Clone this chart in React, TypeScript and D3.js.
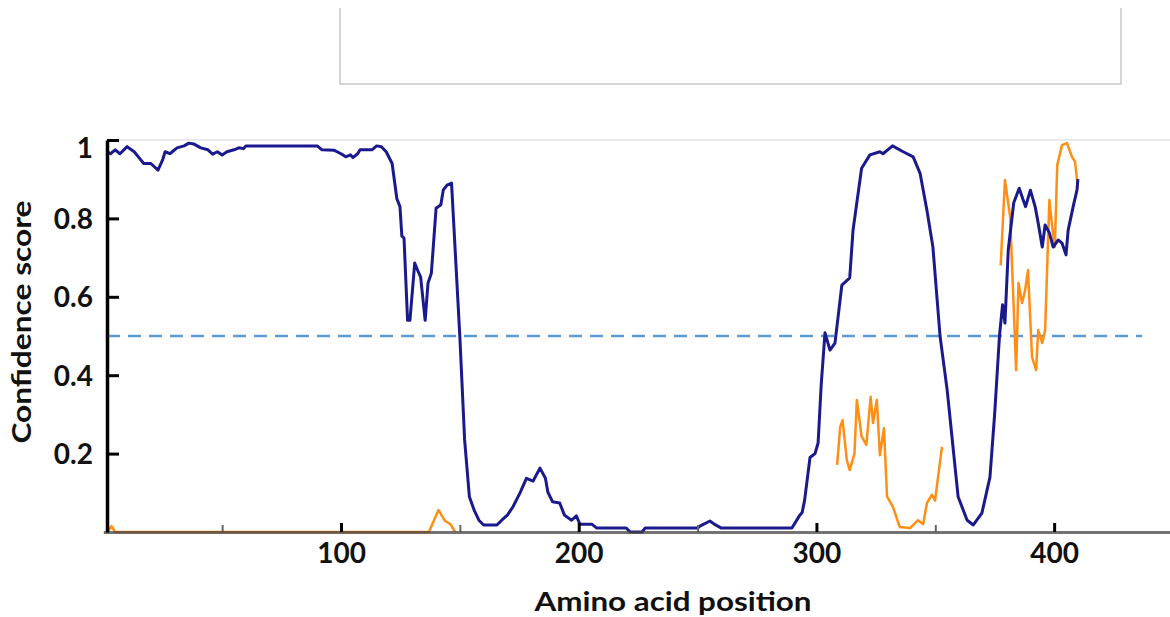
import * as d3 from "d3";
import React, { useRef, useEffect } from "react";

// blue trace: confidence per amino acid position
const bluePos = [1.6, 3, 5, 7, 10, 13, 15, 17, 20, 23, 25, 26, 28, 31, 34, 36, 38, 41, 44, 46, 48, 50, 52, 55, 57, 59, 60, 65, 90, 92, 97, 100, 102, 104, 105, 107, 108, 113, 115, 117, 119, 121.5, 123.5, 124.8, 125.6, 126.5, 128, 129, 131, 132.5, 133.5, 135.4, 136.6, 138, 140, 142, 143, 144.6, 146.5, 150, 152, 154, 156, 158, 160, 165.6, 167.6, 170, 172.4, 175.3, 178, 180.8, 183.7, 186, 187, 189, 192, 194, 197, 199, 200.5, 205.5, 207.6, 220, 221.6, 226.6, 228, 250, 251, 255.2, 257, 260, 289.7, 293, 294, 295, 297.3, 299.4, 300.7, 302, 303.6, 305.7, 307.8, 310.7, 314, 315.4, 319, 322.5, 326.7, 328, 332, 336.5, 340.7, 343.6, 346.5, 349, 352, 355, 356, 359.6, 363.4, 366, 369.6, 373, 375, 377, 378.3, 379.3, 380.7, 383, 385.3, 386.8, 388, 390, 392, 393.3, 395, 396.2, 398, 399.6, 401.7, 403.3, 405, 405.9, 408, 409.6, 410];
const blueScore = [0.97, 0.965, 0.975, 0.965, 0.983, 0.97, 0.955, 0.94, 0.94, 0.923, 0.95, 0.97, 0.965, 0.98, 0.985, 0.992, 0.99, 0.98, 0.975, 0.964, 0.97, 0.962, 0.97, 0.975, 0.98, 0.978, 0.985, 0.985, 0.985, 0.975, 0.974, 0.965, 0.957, 0.962, 0.955, 0.965, 0.975, 0.975, 0.985, 0.983, 0.97, 0.94, 0.85, 0.83, 0.755, 0.75, 0.54, 0.54, 0.686, 0.664, 0.65, 0.54, 0.635, 0.66, 0.826, 0.835, 0.872, 0.885, 0.89, 0.497, 0.235, 0.09, 0.056, 0.03, 0.018, 0.018, 0.03, 0.043, 0.065, 0.1, 0.137, 0.13, 0.163, 0.137, 0.102, 0.077, 0.074, 0.043, 0.03, 0.041, 0.02, 0.02, 0.01, 0.01, 0, 0, 0.01, 0.01, 0.015, 0.028, 0.02, 0.01, 0.01, 0.043, 0.05, 0.08, 0.19, 0.2, 0.227, 0.375, 0.508, 0.464, 0.482, 0.63, 0.648, 0.77, 0.928, 0.962, 0.97, 0.965, 0.985, 0.97, 0.957, 0.915, 0.82, 0.727, 0.5, 0.362, 0.303, 0.09, 0.03, 0.018, 0.048, 0.14, 0.303, 0.5, 0.58, 0.533, 0.72, 0.84, 0.877, 0.85, 0.83, 0.872, 0.83, 0.788, 0.727, 0.783, 0.763, 0.727, 0.745, 0.737, 0.707, 0.77, 0.83, 0.872, 0.9];

// orange trace, null marks a gap between segments
const orangePos = [1.6, 3.5, 5, 137, 141, 143.8, 146, 148, null, 308.7, 310, 311, 312.8, 314, 316, 317, 319, 321, 322.8, 323.8, 325.4, 326.7, 328.4, 329.7, 332.2, 335, 339.4, 342.7, 344.9, 346.5, 348.6, 349.9, 352.8, null, 377.5, 379.3, 381.5, 382.8, 384, 385, 386.5, 387.8, 389, 390.7, 392.4, 393.3, 395, 396.2, 398, 399, 400.3, 401.3, 403.3, 405.4, 407.5, 408.8, 410];
const orangeScore = [0, 0.015, 0, 0, 0.056, 0.028, 0.02, 0, null, 0.171, 0.268, 0.285, 0.183, 0.158, 0.2, 0.337, 0.243, 0.222, 0.345, 0.278, 0.337, 0.196, 0.265, 0.09, 0.064, 0.013, 0.01, 0.03, 0.02, 0.074, 0.095, 0.08, 0.217, null, 0.68, 0.898, 0.804, 0.6, 0.413, 0.635, 0.584, 0.617, 0.668, 0.446, 0.413, 0.515, 0.482, 0.515, 0.847, 0.788, 0.727, 0.936, 0.987, 0.992, 0.957, 0.944, 0.877];

const yTicks = [0.2, 0.4, 0.6, 0.8, 1];
const xMajorTicks = [100, 200, 300, 400];
const xMinorTicks = [50, 150, 250, 350];
const threshold = 0.5;

const W = 1170;
const H = 617;
const axisX = 107;
const font = "Lato, 'Open Sans', sans-serif";

const App = () => {
  const yAxisRef = useRef<SVGGElement>(null);
  const xAxisRef = useRef<SVGGElement>(null);
  const xMinorRef = useRef<SVGGElement>(null);

  const x = d3.scaleLinear().domain([0, 450]).range([103.3, 1173]);
  const y = d3.scaleLinear().domain([0, 1]).range([532, 140]);

  const blueData = bluePos.map((p, i) => [p, blueScore[i]] as [number, number]);
  const orangeData = orangePos.map((p, i) => [p, orangeScore[i]] as [number | null, number | null]);

  const line = d3
    .line<any>()
    .defined((d) => d[0] != null && d[1] != null)
    .x((d) => x(d[0]))
    .y((d) => y(d[1]));

  useEffect(() => {
    const yg = d3.select(yAxisRef.current);
    yg.selectAll("*").remove();
    yg.call(
      d3.axisLeft(y).tickValues(yTicks).tickSizeInner(-12).tickSizeOuter(0).tickPadding(14)
        .tickFormat((d) => String(d))
    );
    yg.select(".domain").attr("stroke", "#000").attr("stroke-width", 3.5);
    yg.selectAll(".tick line").attr("stroke", "#000").attr("stroke-width", 3);
    yg.selectAll(".tick text")
      .attr("font-family", font)
      .attr("font-weight", "bold")
      .attr("font-size", 28)
      .attr("fill", "#111")
      .attr("dy", (d: any) => (d === 1 ? "0.62em" : "0.35em"));

    const xm = d3.select(xMinorRef.current);
    xm.selectAll("*").remove();
    xm.call(d3.axisBottom(x).tickValues(xMinorTicks).tickSizeInner(-7).tickSizeOuter(0).tickFormat(() => ""));
    xm.select(".domain").remove();
    xm.selectAll(".tick line").attr("stroke", "#666").attr("stroke-width", 2);

    const xg = d3.select(xAxisRef.current);
    xg.selectAll("*").remove();
    xg.call(
      d3.axisBottom(x).tickValues(xMajorTicks).tickSizeInner(-9).tickSizeOuter(0).tickPadding(11)
        .tickFormat((d) => String(d))
    );
    xg.select(".domain").attr("stroke", "#444").attr("stroke-width", 3).attr("stroke-opacity", 0.75);
    xg.selectAll(".tick line").attr("stroke", "#000").attr("stroke-width", 3);
    xg.selectAll(".tick text")
      .attr("font-family", font)
      .attr("font-weight", "bold")
      .attr("font-size", 28)
      .attr("fill", "#111");
  }, []);

  return (
    <svg width={W} height={H} style={{ position: "absolute", left: 0, top: 0, background: "#fff" }}>
      {/* empty panel above the plot */}
      <path d="M340,8 V84 H1121 V8" fill="none" stroke="#c8c8c8" strokeWidth={1.5} />

      {/* top frame line */}
      <line x1={axisX} x2={W} y1={y(1)} y2={y(1)} stroke="#d4d4d4" strokeWidth={1} />

      <line
        x1={axisX}
        x2={x(437)}
        y1={y(threshold)}
        y2={y(threshold)}
        stroke="#5b9bd5"
        strokeWidth={2.5}
        strokeDasharray="13,8"
      />

      <path d={line(orangeData) || ""} fill="none" stroke="#ff8f14" strokeWidth={2.5} strokeLinejoin="round" />
      <path d={line(blueData) || ""} fill="none" stroke="#1a1a8e" strokeWidth={3} strokeLinejoin="round" />

      <g ref={xMinorRef} transform={`translate(0,${y(0)})`} />
      <g ref={xAxisRef} transform={`translate(0,${y(0)})`} />
      <g ref={yAxisRef} transform={`translate(${axisX},0)`} />

      <text
        transform={`translate(31,322) rotate(-90)`}
        textAnchor="middle"
        fontFamily={font}
        fontWeight="bold"
        fontSize={27}
        fill="#111"
        textLength={243}
        lengthAdjust="spacingAndGlyphs"
      >
        Confidence score
      </text>
      <text
        x={673}
        y={611}
        textAnchor="middle"
        fontFamily={font}
        fontWeight="bold"
        fontSize={27}
        fill="#111"
        textLength={277}
        lengthAdjust="spacingAndGlyphs"
      >
        Amino acid position
      </text>
    </svg>
  );
};

export default App;
